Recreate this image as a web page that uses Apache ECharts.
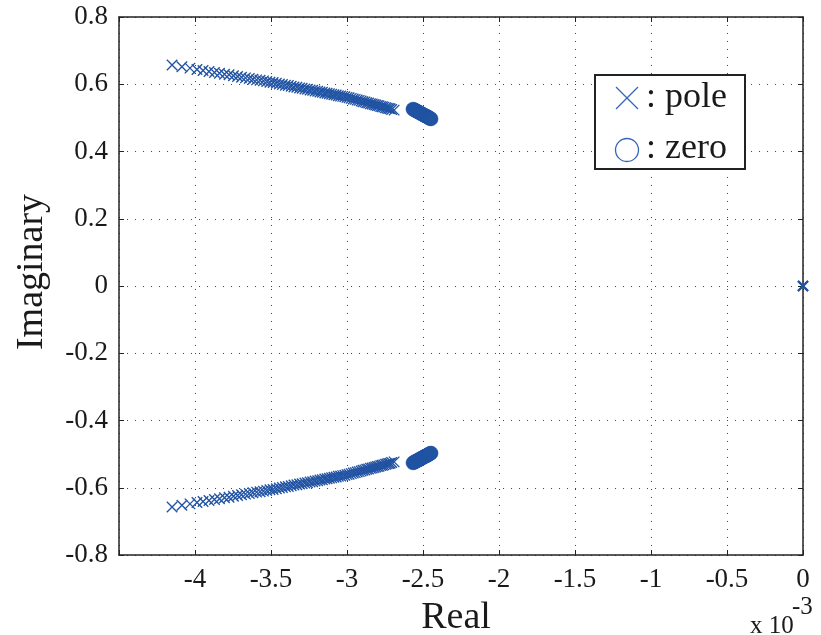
<!DOCTYPE html>
<html>
<head>
<meta charset="utf-8">
<script src="https://cdn.jsdelivr.net/npm/echarts@6/dist/echarts.min.js"></script>
<style>
html,body{margin:0;padding:0;background:#fff;}
#chart{width:821px;height:635px;}
</style>
</head>
<body>
<div id="chart"></div>
<script>
// Real parts are in units of 1e-3
const poleRe = [-4.151, -4.086, -4.033, -3.987, -3.947, -3.908, -3.872, -3.839, -3.806, -3.776, -3.747, -3.720, -3.694, -3.668, -3.643, -3.619, -3.595, -3.572, -3.550, -3.528, -3.507,
  -3.486, -3.465, -3.445, -3.425, -3.405, -3.386, -3.367, -3.349, -3.330, -3.312, -3.295, -3.277, -3.260, -3.243, -3.226, -3.210, -3.193, -3.178, -3.162, -3.146, -3.131, -3.116, -3.101, -3.086, -3.071, -3.057, -3.042, -3.028, -3.014, -3.000,
  -2.986, -2.972, -2.959, -2.946, -2.933, -2.920, -2.907, -2.895, -2.882, -2.870, -2.858, -2.846, -2.834, -2.822, -2.811, -2.800, -2.789, -2.778, -2.767, -2.757, -2.746, -2.736, -2.726, -2.716, -2.706, -2.690];
const poleImUpper = [0.657, 0.652, 0.648, 0.644, 0.641, 0.638, 0.635, 0.633, 0.630, 0.628, 0.625, 0.623, 0.621, 0.619, 0.617, 0.615, 0.613, 0.612, 0.610, 0.608, 0.606,
  0.605, 0.603, 0.601, 0.599, 0.597, 0.596, 0.594, 0.592, 0.591, 0.589, 0.588, 0.586, 0.585, 0.583, 0.582, 0.580, 0.579, 0.577, 0.576, 0.574, 0.573, 0.572, 0.570, 0.569, 0.568, 0.566, 0.565, 0.564, 0.563, 0.561,
  0.560, 0.558, 0.556, 0.555, 0.553, 0.552, 0.550, 0.548, 0.547, 0.545, 0.544, 0.542, 0.541, 0.540, 0.538, 0.537, 0.536, 0.534, 0.533, 0.532, 0.530, 0.529, 0.528, 0.527, 0.525, 0.523];
const poleImLower = [-0.657, -0.652, -0.648, -0.644, -0.641, -0.638, -0.635, -0.633, -0.630, -0.628, -0.625, -0.623, -0.621, -0.619, -0.617, -0.615, -0.613, -0.612, -0.610, -0.608, -0.606,
  -0.605, -0.603, -0.601, -0.599, -0.597, -0.596, -0.594, -0.592, -0.591, -0.589, -0.588, -0.586, -0.585, -0.583, -0.582, -0.580, -0.579, -0.577, -0.576, -0.574, -0.573, -0.572, -0.570, -0.569, -0.568, -0.566, -0.565, -0.564, -0.563, -0.561,
  -0.560, -0.558, -0.556, -0.555, -0.553, -0.552, -0.550, -0.548, -0.547, -0.545, -0.544, -0.542, -0.541, -0.540, -0.538, -0.537, -0.536, -0.534, -0.533, -0.532, -0.530, -0.529, -0.528, -0.527, -0.525, -0.523];
const originPoleRe = [0, 0];
const originPoleIm = [0, 0];
const zeroRe = [-2.566, -2.560, -2.555, -2.549, -2.544, -2.538, -2.533, -2.528, -2.523, -2.518, -2.513, -2.508, -2.503, -2.498, -2.493, -2.489, -2.484, -2.479, -2.475, -2.470, -2.466, -2.461, -2.457, -2.452, -2.447];
const zeroImUpper = [0.526, 0.525, 0.523, 0.522, 0.521, 0.519, 0.518, 0.517, 0.516, 0.514, 0.513, 0.512, 0.511, 0.509, 0.508, 0.507, 0.506, 0.505, 0.504, 0.503, 0.502, 0.500, 0.499, 0.498, 0.497];
const zeroImLower = [-0.526, -0.525, -0.523, -0.522, -0.521, -0.519, -0.518, -0.517, -0.516, -0.514, -0.513, -0.512, -0.511, -0.509, -0.508, -0.507, -0.506, -0.505, -0.504, -0.503, -0.502, -0.500, -0.499, -0.498, -0.497];
const xTicks = [-4.5, -4, -3.5, -3, -2.5, -2, -1.5, -1, -0.5, 0];
const yTicks = [-0.8, -0.6, -0.4, -0.2, 0, 0.2, 0.4, 0.6, 0.8];

const BLUE = '#2153a3';
const FONT = '"Liberation Serif", "Times New Roman", serif';
const pair = (xs, ys) => xs.map((x, i) => [x, ys[i]]);

const poleData = pair(poleRe, poleImUpper).concat(pair(poleRe, poleImLower));
const zeroData = pair(zeroRe, zeroImUpper).concat(pair(zeroRe, zeroImLower));
const originData = pair(originPoleRe, originPoleIm);

const XPATH = 'path://M0,0L10,10M0,10L10,0';

const chart = echarts.init(document.getElementById('chart'), null, {renderer: 'canvas'});

const gridLine = {show: true, lineStyle: {color: '#444', width: 1, type: [1, 7]}};
const axLine = {show: true, onZero: false, lineStyle: {color: '#222', width: 1.5}};
const axTick = {show: true, inside: true, length: 5, lineStyle: {color: '#222', width: 1}};

chart.setOption({
  animation: false,
  backgroundColor: '#fff',
  grid: {left: 119, right: 18, top: 17, bottom: 80, containLabel: false},
  xAxis: [{
    type: 'value', min: xTicks[0], max: xTicks[xTicks.length - 1], interval: 0.5, position: 'bottom',
    axisLine: axLine, axisTick: axTick, splitLine: gridLine,
    axisLabel: {
      color: '#1a1a1a', fontFamily: FONT, fontSize: 27, margin: 11,
      formatter: v => (Math.abs(v + 4.5) < 1e-9 ? '' : String(+v.toFixed(1)))
    }
  }, {
    type: 'value', min: xTicks[0], max: xTicks[xTicks.length - 1], interval: 0.5, position: 'top',
    axisLine: axLine, axisTick: axTick, splitLine: {show: false}, axisLabel: {show: false}
  }],
  yAxis: [{
    type: 'value', min: yTicks[0], max: yTicks[yTicks.length - 1], interval: 0.2, position: 'left',
    axisLine: axLine, axisTick: axTick, splitLine: gridLine,
    axisLabel: {
      color: '#1a1a1a', fontFamily: FONT, fontSize: 27, margin: 11,
      formatter: v => String(+v.toFixed(1))
    }
  }, {
    type: 'value', min: yTicks[0], max: yTicks[yTicks.length - 1], interval: 0.2, position: 'right',
    axisLine: axLine, axisTick: axTick, splitLine: {show: false}, axisLabel: {show: false}
  }],
  series: [{
    name: 'pole', type: 'scatter', data: poleData, symbol: XPATH, symbolSize: 10.5,
    itemStyle: {color: 'none', borderColor: BLUE, borderWidth: 1.35, opacity: 1},
    clip: false, z: 3
  }, {
    name: 'zero', type: 'scatter', data: zeroData, symbol: 'circle', symbolSize: 14,
    itemStyle: {color: BLUE, borderColor: BLUE, borderWidth: 0.5, opacity: 1},
    clip: false, z: 3
  }, {
    name: 'origin', type: 'scatter', data: originData, symbol: XPATH, symbolSize: 10,
    itemStyle: {color: 'none', borderColor: BLUE, borderWidth: 2, opacity: 1},
    clip: false, z: 5
  }],
  graphic: [
    {type: 'rect', shape: {x: 595, y: 75, width: 150, height: 94}, style: {fill: '#fff', stroke: '#222', lineWidth: 2}, z: 10},
    {type: 'line', shape: {x1: 616, y1: 87, x2: 638, y2: 109}, style: {stroke: '#3566b8', lineWidth: 1.3}, z: 11},
    {type: 'line', shape: {x1: 616, y1: 109, x2: 638, y2: 87}, style: {stroke: '#3566b8', lineWidth: 1.3}, z: 11},
    {type: 'circle', shape: {cx: 627, cy: 150, r: 11.5}, style: {fill: 'none', stroke: '#3566b8', lineWidth: 1.3}, z: 11},
    {type: 'text', x: 646, y: 98, style: {text: ': pole', font: '36px ' + FONT, fill: '#1a1a1a', textVerticalAlign: 'middle', textAlign: 'left'}, z: 11},
    {type: 'text', x: 646, y: 149, style: {text: ': zero', font: '36px ' + FONT, fill: '#1a1a1a', textVerticalAlign: 'middle', textAlign: 'left'}, z: 11},
    {type: 'text', x: 456, y: 618, style: {text: 'Real', font: '38px ' + FONT, fill: '#1a1a1a', textAlign: 'center', textVerticalAlign: 'middle'}},
    {type: 'text', x: 32, y: 272, rotation: Math.PI / 2, style: {text: 'Imaginary', font: '38px ' + FONT, fill: '#1a1a1a', textAlign: 'center', textVerticalAlign: 'middle'}},
    {type: 'text', x: 750, y: 626, style: {text: 'x 10', font: '25px ' + FONT, fill: '#1a1a1a', textAlign: 'left', textVerticalAlign: 'middle'}},
    {type: 'text', x: 792, y: 607, style: {text: '-3', font: '25px ' + FONT, fill: '#1a1a1a', textAlign: 'left', textVerticalAlign: 'middle'}}
  ]
});
</script>
</body>
</html>
